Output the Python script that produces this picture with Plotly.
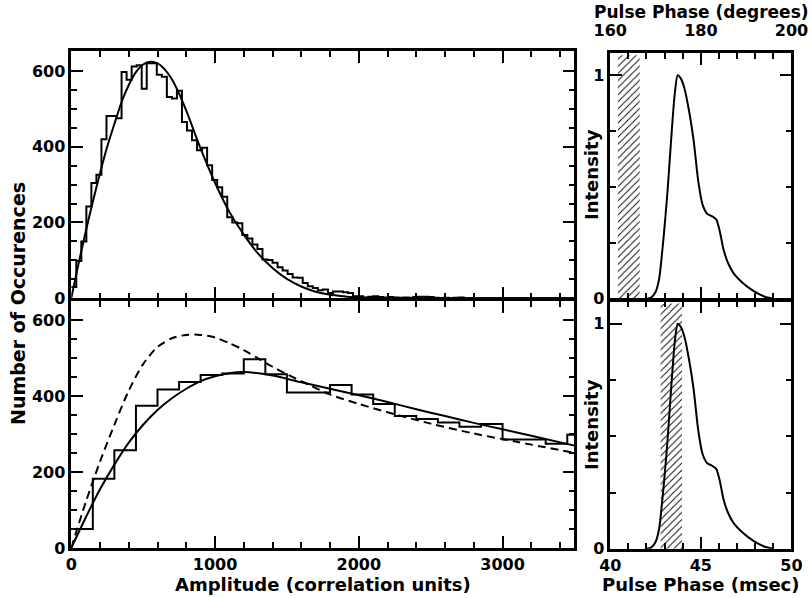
import plotly.graph_objects as go

# ---------------- data ----------------
# Top-left: fine histogram (bin width 35 amplitude units)
top_bin_width = 35
top_counts = [30, 98, 150, 242, 304, 326, 420, 481, 481, 475,
              597, 577, 612, 615, 553, 620, 620, 590, 585, 531,
              527, 548, 465, 443, 417, 391, 397, 351, 312, 293,
              268, 214, 200, 198, 167, 158, 142, 130, 102, 101,
              94, 82, 73, 64, 55, 54, 40, 32, 27, 21,
              23, 14, 18, 18, 16, 14, 5, 5, 2, 4,
              5, 3, 2, 3, 2, 1, 2, 1, 3, 4,
              4, 3, 1, 0, 1, 0, 1, 2, 0, 0,
              0, 0, 0, 0, 0, 0, 0, 0, 0, 0,
              0, 0, 0, 0, 0, 0, 0, 0, 0, 0]
top_fit_x = [0, 50, 100, 150, 200, 250, 300, 350, 400, 450, 500, 550, 600,
             650, 700, 750, 800, 900, 1000, 1100, 1200, 1300, 1400, 1500,
             1600, 1700, 1800, 1900, 2000, 2200, 2400, 3500]
top_fit_y = [0, 90, 175, 255, 330, 400, 460, 518, 563, 597, 617, 624, 620,
             604, 578, 540, 495, 395, 305, 228, 168, 118, 80, 51,
             31, 17, 9, 5, 2, 0.5, 0, 0]

# Bottom-left: coarse histogram (bin width 150 amplitude units)
bot_bin_width = 150
bot_counts = [50, 183, 258, 375, 418, 438, 456, 460, 498, 458,
              410, 410, 430, 405, 380, 348, 340, 331, 320, 327,
              286, 286, 275, 299]
bot_fit_x = [0, 100, 200, 300, 400, 500, 600, 700, 800, 900, 1000, 1100,
             1200, 1400, 1600, 1800, 2000, 2200, 2400, 2600, 2800, 3000,
             3200, 3500]
bot_fit_y = [0, 80, 155, 220, 278, 325, 364, 395, 420, 440, 453, 461,
             464, 455, 437, 420, 403, 385, 366, 348, 330, 313, 296, 270]
bot_dash_x = [0, 100, 200, 300, 400, 500, 600, 700, 800, 900, 1000, 1100,
              1200, 1300, 1400, 1500, 1600, 1800, 2000, 2200, 2500, 2800,
              3100, 3500]
bot_dash_y = [0, 120, 228, 325, 415, 485, 530, 553, 562, 562, 555, 540,
              522, 500, 478, 458, 440, 405, 380, 358, 328, 302, 280, 251]

# Right: pulse profile (msec, normalised intensity)
prof_t = [42.0, 42.25, 42.5, 42.7, 42.95, 43.15, 43.35, 43.55, 43.72, 43.9,
          44.1, 44.35, 44.6, 44.85, 45.1, 45.35, 45.6, 45.85, 46.05, 46.25,
          46.5, 46.8, 47.3, 47.9, 48.5, 49.0]
prof_i = [0, 0.005, 0.03, 0.09, 0.28, 0.47, 0.70, 0.91, 1.0, 0.985,
          0.94, 0.84, 0.71, 0.53, 0.42, 0.38, 0.37, 0.355, 0.30, 0.22,
          0.16, 0.115, 0.072, 0.035, 0.01, 0]
# hatched phase windows (msec)
win_top = [40.42, 41.63]
win_bot = [42.78, 43.96]
win_height = 1.09

# tick labels
amp_ticks = [0, 1000, 2000, 3000]
occ_ticks = [0, 200, 400, 600]
msec_ticks = [40, 45, 50]
deg_labels = ["160", "180", "200"]
int_ticks = [0, 1]

# ---------------- figure ----------------
W, H = 812, 598
LW = 2.5          # axis line width
HL = LW / 2       # plotly draws axis lines just outside the plot area
FONT = dict(family="DejaVu Sans", size=16, color="black", weight="bold")

def tfont(size):
    return dict(family="DejaVu Sans", size=size, color="black", weight="bold")

def px_x(p):
    return p / W

def px_y(p):
    return 1 - p / H

fig = go.Figure()

def hist_xy(counts, width):
    xs = [i * width for i in range(len(counts) + 1)]
    ys = list(counts) + [counts[-1]]
    return xs, ys

LINE = dict(color="black", width=2)

hx, hy = hist_xy(top_counts, top_bin_width)
fig.add_trace(go.Scatter(x=hx, y=hy, mode="lines", line=dict(LINE, shape="hv"),
                         xaxis="x", yaxis="y", showlegend=False))
fig.add_trace(go.Scatter(x=top_fit_x, y=top_fit_y, mode="lines",
                         line=dict(LINE, shape="spline", smoothing=0.8),
                         xaxis="x", yaxis="y", showlegend=False))

hx2, hy2 = hist_xy(bot_counts, bot_bin_width)
fig.add_trace(go.Scatter(x=hx2, y=hy2, mode="lines", line=dict(LINE, shape="hv"),
                         xaxis="x2", yaxis="y2", showlegend=False))
fig.add_trace(go.Scatter(x=bot_fit_x, y=bot_fit_y, mode="lines",
                         line=dict(LINE, shape="spline", smoothing=0.8),
                         xaxis="x2", yaxis="y2", showlegend=False))
fig.add_trace(go.Scatter(x=bot_dash_x, y=bot_dash_y, mode="lines",
                         line=dict(color="black", width=2, dash="8px,5px",
                                   shape="spline", smoothing=0.8),
                         xaxis="x2", yaxis="y2", showlegend=False))

def hatch(win, xa, ya):
    fig.add_trace(go.Scatter(
        x=[win[0], win[1], win[1], win[0], win[0]],
        y=[0, 0, win_height, win_height, 0],
        mode="lines", fill="toself", line=dict(width=0, color="rgba(0,0,0,0)"),
        fillcolor="rgba(0,0,0,0)",
        fillpattern=dict(shape="/", size=5, solidity=0.18, fgcolor="black",
                         bgcolor="rgba(0,0,0,0)", fillmode="replace"),
        xaxis=xa, yaxis=ya, showlegend=False, hoverinfo="skip"))

hatch(win_top, "x3", "y3")
fig.add_trace(go.Scatter(x=prof_t, y=prof_i, mode="lines",
                         line=dict(LINE, shape="spline", smoothing=0.6),
                         xaxis="x3", yaxis="y3", showlegend=False))
hatch(win_bot, "x4", "y4")
fig.add_trace(go.Scatter(x=prof_t, y=prof_i, mode="lines",
                         line=dict(LINE, shape="spline", smoothing=0.6),
                         xaxis="x4", yaxis="y4", showlegend=False))

def ax(**kw):
    base = dict(showline=True, linecolor="black", linewidth=LW, mirror="allticks",
                ticks="inside", ticklen=12, tickwidth=2, tickcolor="black",
                showgrid=False, zeroline=False, tickfont=FONT,
                fixedrange=True, automargin=False)
    base.update(kw)
    return base

def mn(d):
    return dict(ticks="inside", ticklen=6, tickwidth=2, dtick=d, tickcolor="black")

# frame line centres (window pixels) -> plot areas inset by half a line width
LX = [px_x(70 + HL), px_x(575.7 - HL)]
RX = [px_x(609 + HL), px_x(792.7 - HL)]
LTOP = [px_y(299.5 - HL), px_y(50 + HL)]
LBOT = [px_y(549.3 - HL), px_y(299.5 + HL)]
RTOP = [px_y(300 - HL), px_y(51.7 + HL)]
RBOT = [px_y(550 - HL), px_y(300 + HL)]

fig.update_layout(
    template="none",
    width=W, height=H, margin=dict(l=0, r=0, t=0, b=0, autoexpand=False),
    paper_bgcolor="white", plot_bgcolor="white", showlegend=False,
    xaxis=ax(domain=LX, anchor="y", range=[0, 3500], tickvals=amp_ticks,
             showticklabels=False, minor=mn(200)),
    yaxis=ax(domain=LTOP, anchor="x", range=[0, 652], tickvals=occ_ticks, minor=mn(50)),
    xaxis2=ax(domain=LX, anchor="y2", range=[0, 3500], tickvals=amp_ticks, minor=mn(200)),
    yaxis2=ax(domain=LBOT, anchor="x2", range=[0, 652], tickvals=occ_ticks, minor=mn(50)),
    xaxis3=ax(domain=RX, anchor="y3", range=[40, 50], side="top",
              tickvals=msec_ticks, ticktext=deg_labels, ticklabelstandoff=8,
              minor=mn(1)),
    yaxis3=ax(domain=RTOP, anchor="x3", range=[0, 1.1], tickvals=int_ticks, minor=mn(0.25)),
    xaxis4=ax(domain=RX, anchor="y4", range=[40, 50], tickvals=msec_ticks, minor=mn(1)),
    yaxis4=ax(domain=RBOT, anchor="x4", range=[0, 1.1], tickvals=int_ticks, minor=mn(0.25)),
)

def note(text, x, y, angle=0, size=18):
    fig.add_annotation(text=text, x=px_x(x), y=px_y(y), xref="paper", yref="paper",
                       showarrow=False, xanchor="center", yanchor="middle",
                       textangle=angle, font=tfont(size))

note("Number of Occurences", 18, 304, -90, 19)
note("Amplitude (correlation units)", 323, 584)
note("Pulse Phase (msec)", 701, 584)
note("Pulse Phase (degrees)", 701, 12, 0, 17)
note("Intensity", 591, 175, -90)
note("Intensity", 591, 425, -90)

# remove the browser's default 8px body margin so the figure fills the window
fig.write_html("out.html", config={"displayModeBar": False},
               post_script="document.body.style.margin='0px';")
